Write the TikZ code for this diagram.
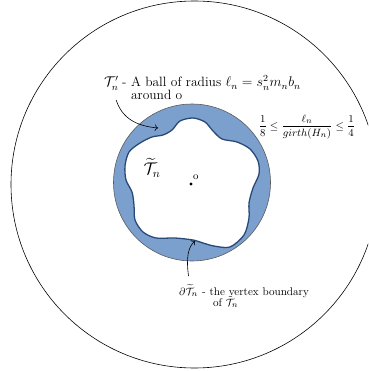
\documentclass[tikz,border=0pt]{standalone}
\usepackage{amsmath,amssymb}
\usetikzlibrary{arrows.meta,positioning}
\definecolor{bandblue}{RGB}{123,160,205}
\definecolor{rimblue}{RGB}{40,72,120}

\begin{document}
\begin{tikzpicture}[
    x=0.03cm, y=-0.03cm,
    every node/.style={font=\normalsize},
    lbl/.style={inner sep=0pt, anchor=base west},
    biglbl/.style={lbl, font=\fontsize{11.5pt}{12.5pt}\selectfont},
    smalllbl/.style={lbl, font=\fontsize{9.5pt}{11pt}\selectfont},
    band/.style={fill=bandblue, draw=black!65, line width=0.5pt},
    hole/.style={fill=white, draw=rimblue, line width=1.1pt},
    pointer/.style={->, line width=0.5pt}
]
\useasboundingbox (0,0) rectangle (368,371);
\clip (0,0) rectangle (368,371);
\draw[line width=0.5pt] (194.5,184.5) circle[radius=183.5];
\fill[band] (192,182.5) circle[radius=78.5];
\draw[hole] plot[smooth cycle] coordinates {
    (140,143) (152,137) (163,135) (172,130) (180,121) (193,118)
    (205,122) (213,131) (222,139) (237,142) (250,149) (258,161)
    (259,174) (253,188) (249,203) (249,218) (244,235) (230,247)
    (214,246) (203,243) (193,240) (175,238) (156,238) (143,232)
    (135,220) (134,205) (132,192) (126,180) (125,166) (129,152)};
\fill (191,184) circle[radius=1.6] coordinate (o);
\node[lbl, anchor=south west, font=\small] (olbl) at (193,180) {o};
\node[font=\Large] (tlbl) at (152,168) {$\widetilde{\mathcal{T}}_n$};
% labels
\node[biglbl] (ballsym) at (104,87) {$\mathcal{T}_n'$};
\node[biglbl] (balllbl) at (122,87) {- \begin{tabular}[t]{@{}l@{}}A ball of radius $\ell_n = s_n^2 m_n b_n$\\[-2pt] around o\end{tabular}};
\node[font=\fontsize{9.5pt}{11pt}\selectfont] (girthlbl) at (307,127) {$\dfrac{1}{8} \le \dfrac{\ell_n}{girth(H_n)} \le \dfrac{1}{4}$};
\node[smalllbl] (bdrysym) at (179,295) {$\partial\widetilde{\mathcal{T}}_n$};
\node[smalllbl] (bdrylbl) at (202,295) {- \begin{tabular}[t]{@{}l@{}}the vertex boundary\\[-2pt] \hspace{3pt}of $\tilde{\mathcal{T}}_n$\end{tabular}};
\coordinate (ballpt) at (158,128);
\coordinate (bdrypt) at (195,241);
\draw[pointer] ([xshift=4pt,yshift=-8pt]ballsym.south) .. controls (122,118) and (136,126) .. (ballpt);
\draw[pointer] ([yshift=7pt]bdrysym.north) .. controls (186,258) and (188,247) .. (bdrypt);
\end{tikzpicture}
\end{document}
